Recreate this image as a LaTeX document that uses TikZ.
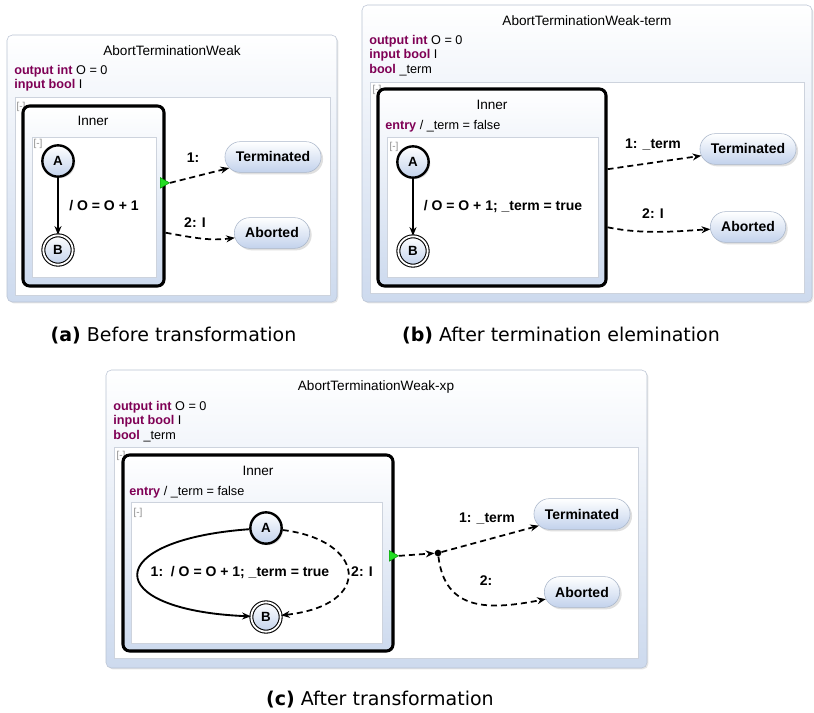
\documentclass[tikz,border=0pt]{standalone}
\usepackage{fontspec}
\setmainfont{Liberation Sans}
\newfontfamily\capfont{DejaVu Sans}
\usetikzlibrary{shapes.misc,shapes.geometric,shadows,arrows.meta,fit}
\definecolor{kwcol}{HTML}{7F0055}
\definecolor{boxline}{HTML}{B9C3D3}
\definecolor{boxblue}{HTML}{CDDAEE}
\definecolor{pillblue}{HTML}{C2D2EC}
\definecolor{pillline}{HTML}{A9B6CA}
\definecolor{regline}{HTML}{CDD3DD}
\definecolor{trigreen}{HTML}{22DD22}
\newcommand{\kw}[1]{\textcolor{kwcol}{\textbf{#1}}}

\begin{document}
\begin{tikzpicture}[
    x=0.75pt, y=-0.75pt,
    outerbox/.style={rectangle, draw=boxline, rounded corners=4pt, top color=white, bottom color=boxblue, inner sep=0pt, drop shadow={opacity=0.2, shadow xshift=1pt, shadow yshift=-1pt}},
    region/.style={rectangle, draw=regline, fill=white, inner sep=0pt},
    superstate/.style={rectangle, draw=black, line width=2.3pt, rounded corners=5pt, top color=white, bottom color=boxblue, inner sep=0pt, drop shadow={opacity=0.2, shadow xshift=1pt, shadow yshift=-1pt}},
    subregion/.style={rectangle, draw=regline, fill=white, inner sep=0pt},
    state/.style={circle, draw=black, line width=1.8pt, minimum size=23.5pt, inner sep=0pt, top color=white, bottom color=pillblue, font=\fontsize{10}{11}\selectfont\bfseries, drop shadow={opacity=0.25, shadow xshift=1.2pt, shadow yshift=-1.2pt}},
    final/.style={state, line width=0.8pt, double=white, double distance=1.4pt, minimum size=22pt},
    pill/.style={rounded rectangle, draw=pillline, top color=white, bottom color=pillblue, font=\fontsize{10.5}{12}\selectfont\bfseries, inner xsep=7.5pt, inner ysep=0pt, minimum height=23pt, text height=7.5pt, text depth=0pt, drop shadow={opacity=0.25, shadow xshift=1.5pt, shadow yshift=-1.5pt}},
    title/.style={font=\fontsize{10.2}{12}\selectfont, inner sep=0pt, text height=7.3pt, text depth=0pt},
    decl/.style={font=\fontsize{9.5}{11}\selectfont, inner sep=0pt, anchor=west, text height=6.8pt, text depth=0pt},
    marker/.style={font=\fontsize{7.5}{8}\selectfont, text=black!45, inner sep=0pt},
    lbl/.style={font=\fontsize{10.5}{12}\selectfont\bfseries, inner sep=0pt, text height=7.5pt, text depth=0pt},
    trig/.style={isosceles triangle, isosceles triangle apex angle=60, fill=trigreen, draw=green!50!black, line width=0.3pt, inner sep=0pt, minimum height=7pt, anchor=left side},
    flow/.style={-{Stealth[length=6.5pt, width=5.2pt]}, line width=1.4pt},
    dflow/.style={flow, line width=1.3pt, dash pattern=on 4.5pt off 3pt},
    caption/.style={font=\capfont\fontsize{14.25}{16}\selectfont, inner sep=0pt}
]
\useasboundingbox (0,0) rectangle (814,713);

% ---------- (a) before transformation
\node[outerbox, fit={(7,35) (337,302)}] (outA) {};
\node[title] (titA) at (172,51) {AbortTerminationWeak};
\node[decl] (declA1) at (14,70) {\kw{output int} O = 0};
\node[decl] (declA2) at (14,84) {\kw{input bool} I};
\node[region, fit={(15,97) (330,295)}] (regA) {};
\node[marker] (mkA1) at (21,107) {[-]};
\node[superstate, fit={(23,106) (164,286)}] (innerA) {};
\node[title] (innA) at (93,121) {Inner};
\node[subregion, fit={(32,137) (156,277)}] (subA) {};
\node[marker] (mkA2) at (38,144) {[-]};
\node[state] (stA) at (58,161) {A};
\node[final] (stB) at (58,250) {B};
\node[pill] (termA) at (273,157) {Terminated};
\node[pill] (abortA) at (272,233) {Aborted};
\node[trig] (trgA) at (165,180) {};

\draw[flow] (stA) -- (stB);
\node[lbl] (lblA0) at (104,205) {/ O = O + 1};
\draw[dflow] (trgA.apex) -- (termA);
\node[lbl] (lblA1) at (193,158) {1:};
\draw[dflow] (innerA.-27) .. controls (195,238) and (210,241) .. (abortA);
\node[lbl] (lblA2) at (195,223) {2: I};

\node[caption] (capA) at (173.5,336) {\textbf{(a)} Before transformation};

% ---------- (b) after termination elemination
\node[outerbox, fit={(362,5) (812,302)}] (outB) {};
\node[title] (titB) at (587,21) {AbortTerminationWeak-term};
\node[decl] (declB1) at (369,40) {\kw{output int} O = 0};
\node[decl] (declB2) at (369,54) {\kw{input bool} I};
\node[decl] (declB3) at (369,69) {\kw{bool} \_term};
\node[region, fit={(370,82) (804,293)}] (regB) {};
\node[marker] (mkB1) at (377,90) {[-]};
\node[superstate, fit={(378,89) (606,286)}] (innerB) {};
\node[title] (innB) at (492,105) {Inner};
\node[decl] (entB) at (385,125) {\kw{entry} / \_term = false};
\node[subregion, fit={(387,137) (598,277)}] (subB) {};
\node[marker] (mkB2) at (394,147) {[-]};
\node[state] (stBA) at (413,162) {A};
\node[final] (stBB) at (413,251) {B};
\node[pill] (termB) at (748,149) {Terminated};
\node[pill] (abortB) at (748,227) {Aborted};

\draw[flow] (stBA) -- (stBB);
\node[lbl] (lblB0) at (503,205) {/ O = O + 1; \_term = true};
\draw[dflow] (innerB.9) -- (termB);
\node[lbl] (lblB1) at (653,144) {1: \_term};
\draw[dflow] (innerB.-19) .. controls (645,235) and (680,231) .. (abortB);
\node[lbl] (lblB2) at (653,214) {2: I};

\node[caption] (capB) at (561,336) {\textbf{(b)} After termination elemination};

% ---------- (c) after transformation
\node[outerbox, fit={(106,370) (647,668)}] (outC) {};
\node[title] (titC) at (376,386) {AbortTerminationWeak-xp};
\node[decl] (declC1) at (113,406) {\kw{output int} O = 0};
\node[decl] (declC2) at (113,420) {\kw{input bool} I};
\node[decl] (declC3) at (113,435) {\kw{bool} \_term};
\node[region, fit={(114,447) (638,658)}] (regC) {};
\node[marker] (mkC1) at (121,456) {[-]};
\node[superstate, fit={(123,455) (393,651)}] (innerC) {};
\node[title] (innC) at (258,471) {Inner};
\node[decl] (entC) at (129,491) {\kw{entry} / \_term = false};
\node[subregion, fit={(131,502) (382,643)}] (subC) {};
\node[marker] (mkC2) at (138,513) {[-]};
\node[state] (stCA) at (266,528) {A};
\node[final] (stCB) at (266,617) {B};
\node[pill] (termC) at (582,514) {Terminated};
\node[pill] (abortC) at (582,592) {Aborted};
\node[trig] (trgC) at (394,553) {};
\node[circle, fill=black, inner sep=0pt, minimum size=5pt] (jun) at (438,553) {};

\draw[flow] (stCA) .. controls (101,540) and (100,610) .. (stCB);
\node[lbl] (lblC0) at (240,571) {1:~~/ O = O + 1; \_term = true};
\draw[dflow] (stCA) .. controls (365,540) and (375,605) .. (stCB);
\node[lbl, fill=white, inner xsep=1pt] (lblC2) at (362,571) {2: I};
\draw[dflow] (trgC.apex) -- (jun);
\draw[dflow] (jun) -- (termC);
\node[lbl] (lblC3) at (487,517) {1: \_term};
\draw[dflow] (jun) .. controls (445,612) and (490,610) .. (abortC);
\node[lbl] (lblC4) at (486,580) {2:};

\node[caption] (capC) at (380,700) {\textbf{(c)} After transformation};
\end{tikzpicture}
\end{document}
